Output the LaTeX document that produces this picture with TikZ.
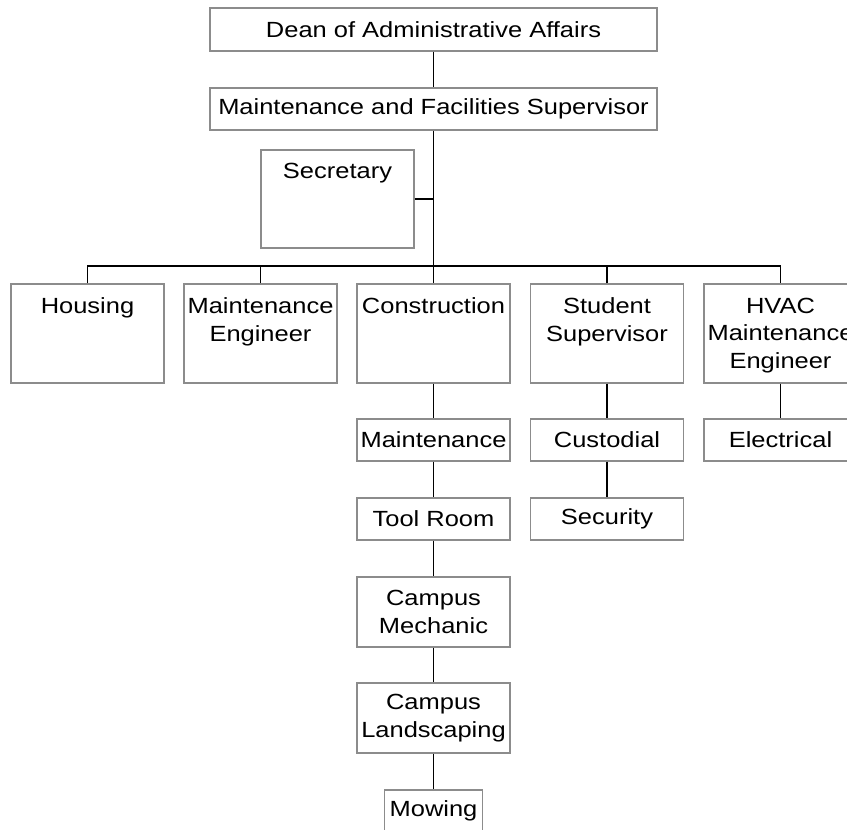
\documentclass[tikz,border=0pt]{standalone}
\usepackage{fontspec}
\setmainfont[FakeStretch=1.16]{Liberation Sans}

\tikzset{
    unit/.style={draw=black!45, line width=0.8pt, inner sep=0pt, align=center,
                 minimum width=3.06cm, minimum height=0.84cm},
    tallunit/.style={unit, minimum height=1.98cm},
    toptext/.style={anchor=north, align=center, inner sep=0pt, yshift=-0.28cm},
    link/.style={line width=0.6pt}
}

\begin{document}
\begin{tikzpicture}[x=0.02cm, y=-0.02cm, font=\fontsize{12.5}{15.9}\selectfont]

    \useasboundingbox (0,0) rectangle (847,829);

    % Direccion
        \node[unit, minimum width=8.94cm, minimum height=0.86cm] (dean) at (433.5,29.5) {Dean of Administrative Affairs};
        \node[unit, minimum width=8.94cm] (super) at (433.5,109) {Maintenance and Facilities Supervisor};

        \node[tallunit, minimum height=1.96cm, label={[toptext]north:Secretary}] (secr) at (337.5,199) {};

    % Primer nivel
        \coordinate (bus) at (433.5,266);

        \node[tallunit, label={[toptext]north:Housing}] (housing) at (87.5,333.5) {};
        \node[tallunit, label={[toptext]north:Maintenance\\Engineer}] (mainteng) at (260.5,333.5) {};
        \node[tallunit, label={[toptext]north:Construction}] (constr) at (433.5,333.5) {};
        \node[tallunit, label={[toptext]north:Student\\Supervisor}] (student) at (607,333.5) {};
        \node[tallunit, label={[toptext]north:HVAC\\Maintenance\\Engineer}] (hvac) at (780.5,333.5) {};

    % Construccion
        \node[unit] (maint) at (433.5,440) {Maintenance};
        \node[unit] (toolroom) at (433.5,519) {Tool Room};
        \node[unit, minimum height=1.4cm] (mechanic) at (433.5,612) {Campus\\Mechanic};
        \node[unit, minimum height=1.4cm] (landsc) at (433.5,718) {Campus\\Landscaping};
        \node[unit, minimum width=1.96cm] (mowing) at (433.5,811) {Mowing};

    % Supervisor estudiantil
        \node[unit] (custodial) at (607,440) {Custodial};
        \node[unit] (security) at (607,519) {Security};

    % HVAC
        \node[unit] (electrical) at (780.5,440) {Electrical};

    % Lineas
        \draw[link] (dean) -- (super);
        \draw[link] (super) -- (constr);
        \draw[link] (secr.east) -- (secr.east -| super.south);
        \draw[link] (housing.north) |- (bus) -| (hvac.north);
        \draw[link] (mainteng.north) -- (mainteng.north |- bus);
        \draw[link] (student.north) -- (student.north |- bus);

        \draw[link] (constr) -- (maint);
        \draw[link] (maint) -- (toolroom);
        \draw[link] (toolroom) -- (mechanic);
        \draw[link] (mechanic) -- (landsc);
        \draw[link] (landsc) -- (mowing);

        \draw[link] (student) -- (custodial);
        \draw[link] (custodial) -- (security);

        \draw[link] (hvac) -- (electrical);

\end{tikzpicture}
\end{document}
